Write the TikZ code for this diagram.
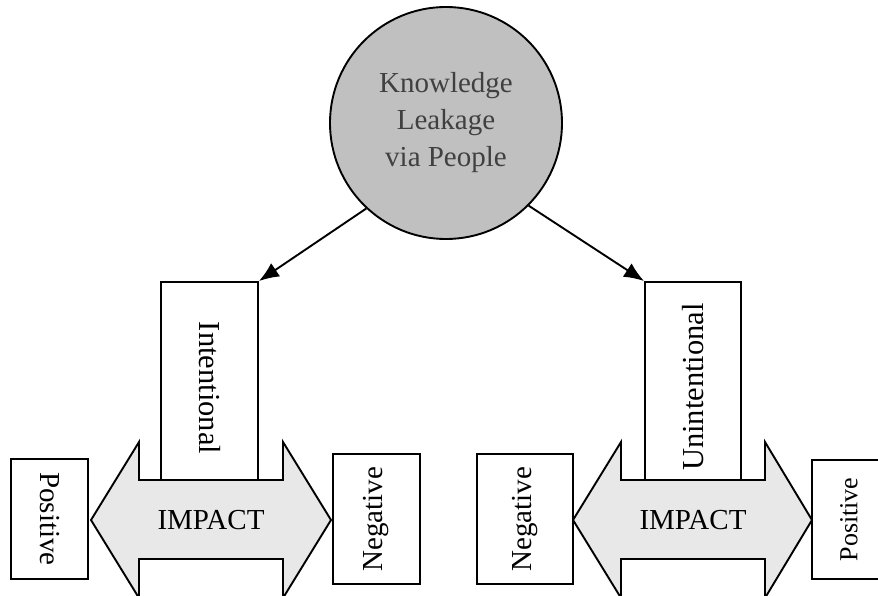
\documentclass[tikz,border=0pt]{standalone}
\usepackage{fontspec}
\setmainfont{Liberation Serif}
\usepackage{tikz}
\usetikzlibrary{calc}
\usetikzlibrary{positioning}
\usetikzlibrary{arrows.meta}
\definecolor{circgray}{RGB}{192,192,192}
\definecolor{textgray}{RGB}{64,64,64}
\definecolor{arrgray}{RGB}{232,232,232}

\begin{document}
\begin{tikzpicture}[x=1pt,y=-1pt,>={Latex[length=20pt,width=16pt]},
  line width=1.9pt,
  box/.style={draw,rectangle,inner sep=0pt,minimum width=#1},
  bigtxt/.style={font=\fontsize{29}{37}\selectfont}]

\useasboundingbox (0,0) rectangle (878,596);
\clip (0,0) rectangle (878,596);

% source
\node[circle,draw,fill=circgray,minimum size=232pt,inner sep=0pt,
  text=textgray,align=center,bigtxt] (leak) at (446,123) {Knowledge\\Leakage\\via People};

% kinds of leakage
\node[box=97pt,minimum height=198pt] (intent) at (209.5,381) {};
\node[box=96pt,minimum height=198pt] (unintent) at (693,381) {};
\node[rotate=-90,font=\fontsize{30.5}{37}\selectfont] (intxt) at ($(intent)+(0,7)$) {Intentional};
\node[rotate=90,font=\fontsize{30.5}{37}\selectfont] (unintxt) at ($(unintent)+(0,6)$) {Unintentional};

\draw[->] (leak.227) -- (intent.north east);
\draw[->] (leak.315) -- (unintent.north west);

% impact arrows
\draw[fill=arrgray] (91,520) -- (139,442) -- (139,480) -- (283,480) -- (283,442) -- (331,520)
  -- (283,598) -- (283,559) -- (139,559) -- (139,598) -- cycle;
\node[bigtxt] (impl) at (211,520) {IMPACT};
\draw[fill=arrgray] (573,520) -- (621,442) -- (621,480) -- (765,480) -- (765,442) -- (812,520)
  -- (765,598) -- (765,559) -- (621,559) -- (621,598) -- cycle;
\node[bigtxt] (impr) at (693,520) {IMPACT};

% outcomes
\node[box=77pt,minimum height=120pt,bigtxt] (posl) at (49.5,519) {\rotatebox{-90}{Positive}};
\node[box=87pt,minimum height=130pt,bigtxt] (negl) at (376.5,519) {\rotatebox{90}{Negative}};
\node[box=96pt,minimum height=130pt,bigtxt] (negr) at (525,519) {\rotatebox{90}{Negative}};
\node[box=74pt,minimum height=119pt,font=\fontsize{26}{32}\selectfont] (posr) at (849,519.5) {\rotatebox{90}{Positive}};
\end{tikzpicture}
\end{document}
